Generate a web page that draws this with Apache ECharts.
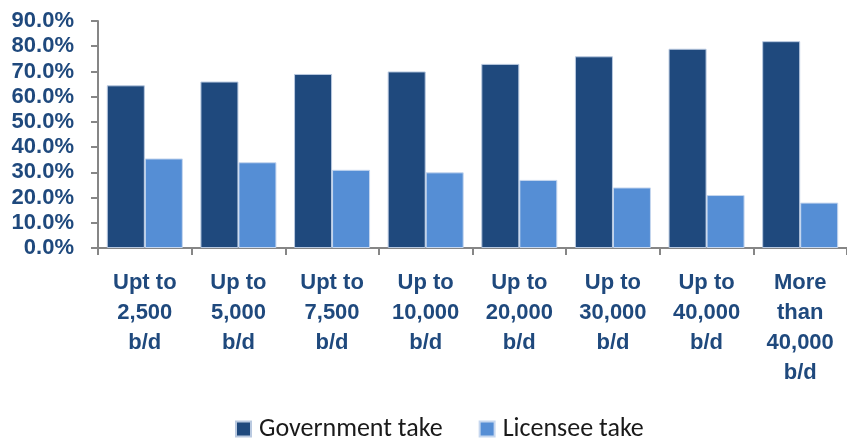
<!DOCTYPE html>
<html><head><meta charset="utf-8">
<script src="https://cdn.jsdelivr.net/npm/echarts@6/dist/echarts.min.js"></script>
<style>html,body{margin:0;padding:0;background:#fff}#c{width:847px;height:439px}</style>
</head><body><div id="c"></div>
<script>
const categories = ["Upt to\n2,500\nb/d","Up to\n5,000\nb/d","Upt to\n7,500\nb/d","Up to\n10,000\nb/d","Up to\n20,000\nb/d","Up to\n30,000\nb/d","Up to\n40,000\nb/d","More\nthan\n40,000\nb/d"];
const governmentTake = [64.5, 66, 69, 70, 73, 76, 79, 82];
const licenseeTake = [35.5, 34, 31, 30, 27, 24, 21, 18];
const seriesNames = ["Government take", "Licensee take"];

const labelFont = "'Liberation Sans Narrow','Arial Narrow','Liberation Sans',Arial,sans-serif";
const labelColor = '#1F497D';
const chart = echarts.init(document.getElementById('c'), null, {renderer:'canvas'});
chart.setOption({
  animation:false,
  grid:{left:98,right:0,top:21,bottom:191,containLabel:false},
  legend:{
    left:230, top:411, itemWidth:15, itemHeight:15, itemGap:36, icon:'rect',
    textStyle:{fontFamily:"Carlito,Lato,sans-serif",fontSize:26,color:'#1a1a1a',padding:[0,0,0,3]},
    data:seriesNames
  },
  xAxis:{
    type:'category', data:categories, boundaryGap:true,
    axisLine:{lineStyle:{color:'#868686',width:2}},
    axisTick:{show:true,length:7,lineStyle:{color:'#868686',width:2}},
    axisLabel:{interval:0,margin:20,fontFamily:labelFont,fontWeight:'bold',fontSize:22,lineHeight:30,color:labelColor,align:'center'}
  },
  yAxis:{
    type:'value', min:0, max:90, interval:10,
    axisLine:{show:true,lineStyle:{color:'#868686',width:2}},
    axisTick:{show:true,length:7,lineStyle:{color:'#868686',width:2}},
    splitLine:{show:false},
    axisLabel:{margin:24,fontFamily:labelFont,fontWeight:'bold',fontSize:22,color:labelColor,formatter:v=>v.toFixed(1)+'%'}
  },
  series:[
    {name:seriesNames[0],type:'bar',data:governmentTake,barGap:'0%',barCategoryGap:'18.8%',
     itemStyle:{color:'#1F497D',borderColor:'#b9c9e0',borderWidth:1}},
    {name:seriesNames[1],type:'bar',data:licenseeTake,barGap:'0%',barCategoryGap:'18.8%',
     itemStyle:{color:'#558ED5',borderColor:'#c6d7ef',borderWidth:1}}
  ]
});
</script></body></html>
